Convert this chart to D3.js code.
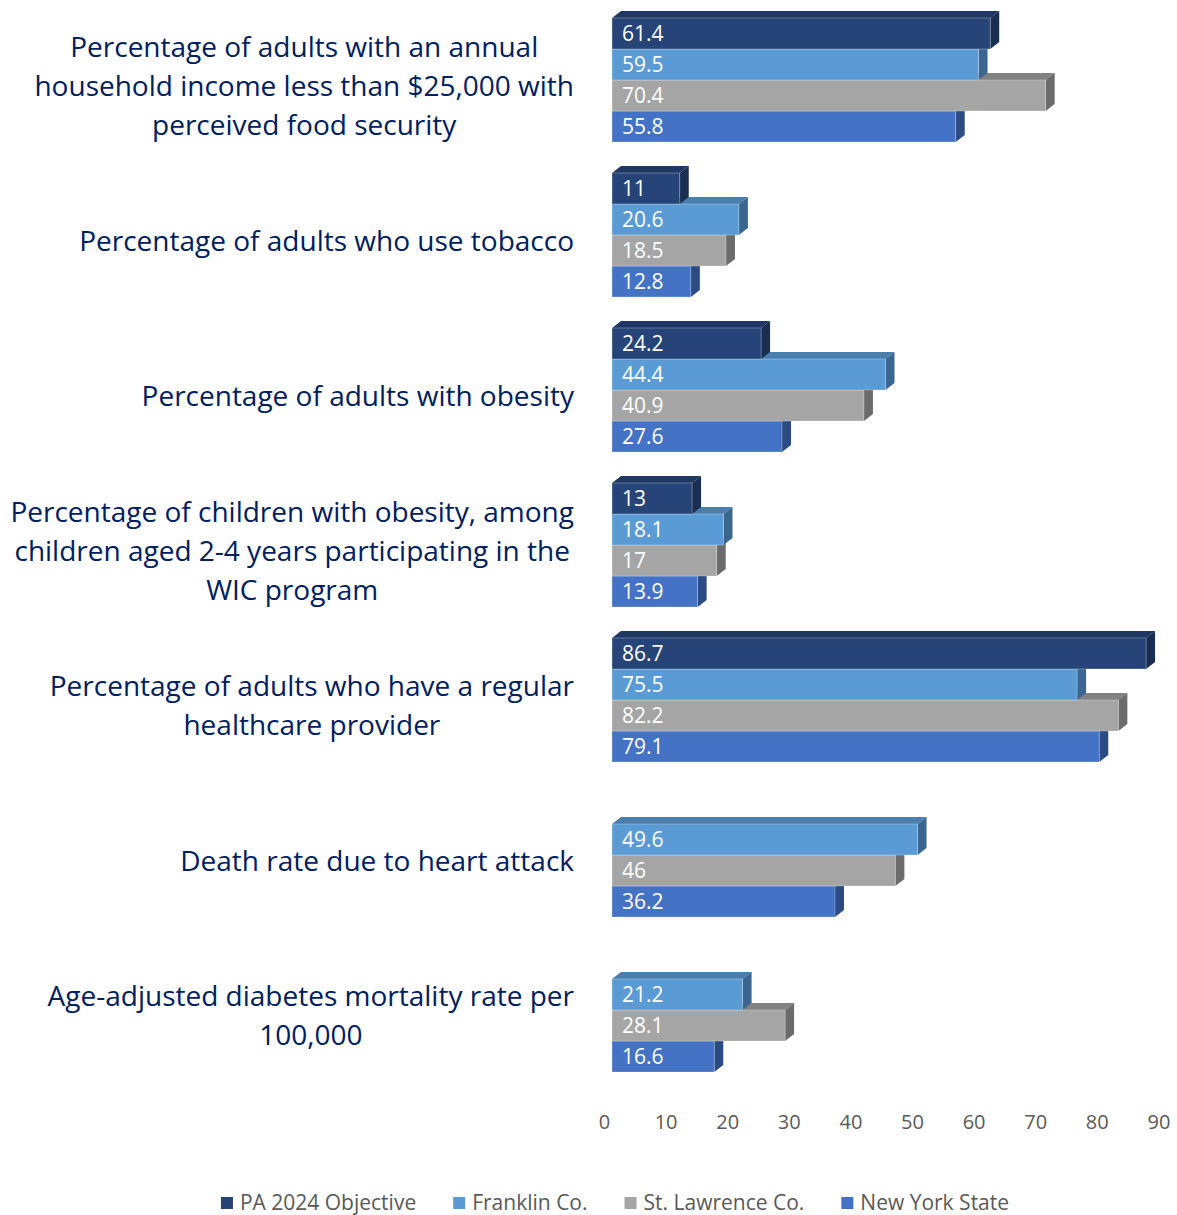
<!DOCTYPE html>
<html>
<head>
<meta charset="utf-8">
<script src="https://cdn.jsdelivr.net/npm/d3@7"></script>
<style>
  html, body { margin: 0; padding: 0; background: #ffffff; }
  svg { display: block; }
</style>
</head>
<body>
<svg id="chart" width="1177" height="1215"></svg>
<script>
// Indicator labels, already broken into display lines
const categoryLines = [
  ["Percentage of adults with an annual", "household income less than $25,000 with", "perceived food security"],
  ["Percentage of adults who use tobacco"],
  ["Percentage of adults with obesity"],
  ["Percentage of children with obesity, among", "children aged 2-4 years participating in the", "WIC program"],
  ["Percentage of adults who have a regular", "healthcare provider"],
  ["Death rate due to heart attack"],
  ["Age-adjusted diabetes mortality rate per", "100,000"]
];

const seriesNames = ["PA 2024 Objective", "Franklin Co.", "St. Lawrence Co.", "New York State"];

const paObjective  = [61.4, 11,   24.2, 13,   86.7, null, null];
const franklin     = [59.5, 20.6, 44.4, 18.1, 75.5, 49.6, 21.2];
const stLawrence   = [70.4, 18.5, 40.9, 17,   82.2, 46,   28.1];
const newYorkState = [55.8, 12.8, 27.6, 13.9, 79.1, 36.2, 16.6];

const tickValues = [0, 10, 20, 30, 40, 50, 60, 70, 80, 90];

// front / top / side shading for each series
const palette = [
  { front: "#264478", top: "#1f3763", side: "#1a2e52" },
  { front: "#5b9bd5", top: "#4a7eac", side: "#3b6690" },
  { front: "#a5a5a5", top: "#828282", side: "#6b6b6b" },
  { front: "#4472c4", top: "#375ea3", side: "#2c4b84" }
];

const allSeries = [paObjective, franklin, stLawrence, newYorkState];

const svg = d3.select("#chart");
const fontFamily = "'Open Sans', 'Noto Sans', sans-serif";

// depth of the extruded bars
const DX = 9, DY = -7;

const x = d3.scaleLinear().domain([0, 90]).range([612, 612 + 554.4]);
const y = d3.scaleBand()
  .domain(d3.range(categoryLines.length))
  .range([2.5, 1087.5])
  .paddingInner(0.2)
  .paddingOuter(0.1);
const ySub = d3.scaleBand()
  .domain(d3.range(seriesNames.length))
  .range([0, y.bandwidth()]);

// flatten into bar records
const bars = [];
categoryLines.forEach((_, ci) => {
  allSeries.forEach((vals, si) => {
    if (vals[ci] != null) bars.push({ ci, si, v: vals[ci] });
  });
});

// bottom series first so upper bars cover the lower bars' top faces
bars.sort((a, b) => (a.ci - b.ci) || (b.si - a.si));

const gBars = svg.append("g");
bars.forEach(d => {
  const x0 = x(0), x1 = x(d.v);
  const y0 = y(d.ci) + ySub(d.si);
  const h = ySub.bandwidth();
  const c = palette[d.si];
  const g = gBars.append("g");
  g.append("path")
    .attr("d", `M${x0},${y0}L${x0 + DX},${y0 + DY}L${x1 + DX},${y0 + DY}L${x1},${y0}Z`)
    .attr("fill", c.top);
  g.append("path")
    .attr("d", `M${x1},${y0}L${x1 + DX},${y0 + DY}L${x1 + DX},${y0 + h + DY}L${x1},${y0 + h}Z`)
    .attr("fill", c.side);
  g.append("rect")
    .attr("x", x0).attr("y", y0)
    .attr("width", x1 - x0).attr("height", h)
    .attr("fill", c.front)
    .attr("stroke", "rgba(255,255,255,0.35)")
    .attr("stroke-width", 0.8);
  g.append("text")
    .attr("x", x0 + 10)
    .attr("y", y0 + h / 2)
    .attr("dy", "0.35em")
    .attr("fill", "#ffffff")
    .attr("font-family", fontFamily)
    .attr("font-size", 21)
    .text(d.v);
});

// category labels: centred lines, right edge of the widest line at x=574
const gCats = svg.append("g");
const lineH = 39;
categoryLines.forEach((lines, ci) => {
  const cy = y(ci) + y.bandwidth() / 2 + 6;
  const g = gCats.append("g");
  const texts = lines.map((line, li) =>
    g.append("text")
      .attr("y", cy + (li - (lines.length - 1) / 2) * lineH)
      .attr("dy", "0.35em")
      .attr("text-anchor", "middle")
      .attr("fill", "#002060")
      .attr("font-family", fontFamily)
      .attr("font-size", 28)
      .text(line)
  );
  const maxW = d3.max(texts, t => t.node().getComputedTextLength());
  texts.forEach(t => t.attr("x", 574 - maxW / 2));
});

// value axis, drawn on the floor of the 3D box
const xAxisScale = d3.scaleLinear().domain([0, 90]).range([604, 604 + 554.4]);
const axis = svg.append("g")
  .attr("transform", "translate(0,1110)")
  .call(d3.axisBottom(xAxisScale).tickValues(tickValues).tickSize(0).tickPadding(0));
axis.select(".domain").remove();
axis.selectAll("text")
  .attr("fill", "#595959")
  .attr("font-family", fontFamily)
  .attr("font-size", 20)
  .attr("dy", "0.35em")
  .attr("y", 12);

// legend
const legend = svg.append("g");
const items = seriesNames.map((name, si) => {
  const g = legend.append("g");
  g.append("rect").attr("width", 12).attr("height", 12).attr("y", -6).attr("fill", palette[si].front);
  const t = g.append("text")
    .attr("x", 19).attr("dy", "0.35em")
    .attr("fill", "#595959")
    .attr("font-family", fontFamily)
    .attr("font-size", 21)
    .text(name);
  return { g, w: 19 + t.node().getComputedTextLength() };
});
const gap = 37;
const total = d3.sum(items, d => d.w) + gap * (items.length - 1);
let lx = 615 - total / 2;
items.forEach(it => {
  it.g.attr("transform", `translate(${lx},1203)`);
  lx += it.w + gap;
});
</script>
</body>
</html>
